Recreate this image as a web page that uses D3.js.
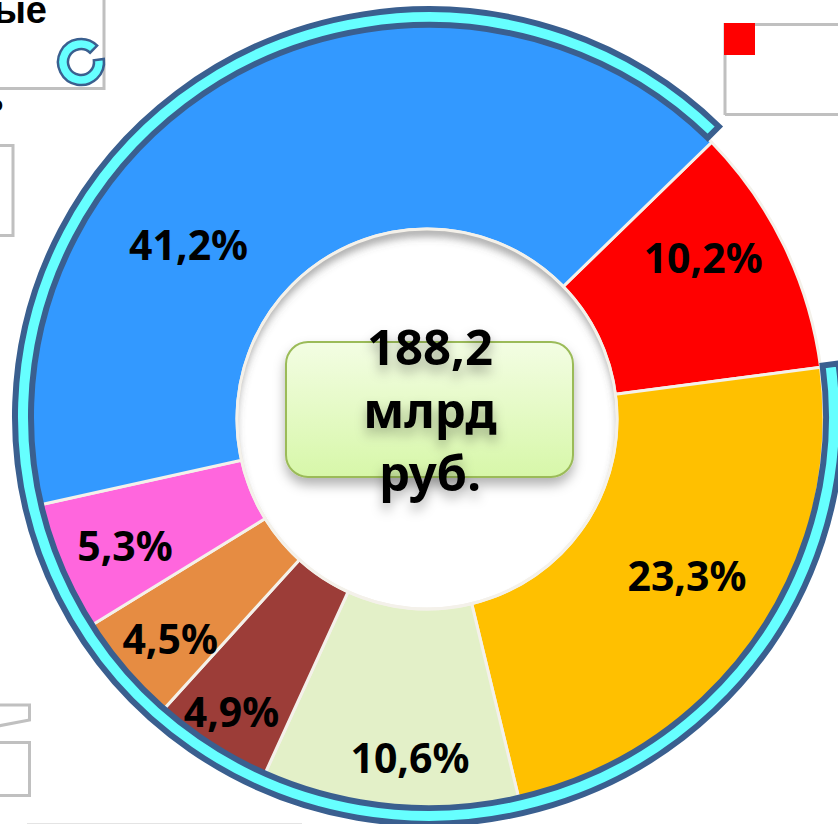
<!DOCTYPE html>
<html>
<head>
<meta charset="utf-8">
<script src="https://d3js.org/d3.v7.min.js"></script>
<style>
html, body { margin: 0; padding: 0; background: #fff; overflow: hidden; }
svg { display: block; }
.slice-label { font-family: "Noto Sans", sans-serif; font-weight: 700; font-size: 41px; fill: #000; text-anchor: middle; dominant-baseline: central; }
.total-label { font-family: "Noto Sans", sans-serif; font-weight: 700; font-size: 49px; fill: #000; text-anchor: middle; }
.frame { fill: none; stroke: #c0c0c0; stroke-width: 3; }
</style>
</head>
<body>
<svg id="chart" width="838" height="824"></svg>
<script>
const labels = ['10,2%', '23,3%', '10,6%', '4,9%', '4,5%', '5,3%', '41,2%'];
const shares = [10.2, 23.3, 10.6, 4.9, 4.5, 5.3, 41.2];
const totalLines = ['188,2', 'млрд', 'руб.'];

const sliceColors = ['#ff0000', '#ffc000', '#e3f0c8', '#9c3d38', '#e68c42', '#ff66dd', '#3399ff'];
// labels were placed by hand in the original, so they sit off the centroid
const labelNudge = [[12, -34], [18, -10], [11, 46], [-34, 47], [-31, 32], [-30, 16], [-99, 83]];

const svg = d3.select('svg#chart');
const cx = 427, cy = 419;
const innerRadius = 190, outerRadius = 397;
const startDeg = 45.8;

const color = d3.scaleOrdinal().domain(labels).range(sliceColors);

const pie = d3.pie().sort(null)
    .startAngle(startDeg * Math.PI / 180)
    .endAngle((startDeg + 360) * Math.PI / 180);
const arcs = pie(shares);
const arc = d3.arc().innerRadius(innerRadius).outerRadius(outerRadius);

const defs = svg.append('defs');
const grad = defs.append('linearGradient').attr('id', 'boxFill')
    .attr('x1', 0).attr('x2', 0).attr('y1', 0).attr('y2', 1);
grad.append('stop').attr('offset', '0%').attr('stop-color', '#f3fde3');
grad.append('stop').attr('offset', '100%').attr('stop-color', '#d7f7a9');
const soft = defs.append('filter').attr('id', 'soft')
    .attr('x', '-20%').attr('y', '-30%').attr('width', '140%').attr('height', '160%');
soft.append('feDropShadow').attr('dx', 0).attr('dy', 7).attr('stdDeviation', 6)
    .attr('flood-color', '#000').attr('flood-opacity', 0.3);
defs.append('filter').attr('id', 'blur')
    .append('feGaussianBlur').attr('stdDeviation', 4);
defs.append('clipPath').attr('id', 'hole')
    .append('circle').attr('cx', cx).attr('cy', cy).attr('r', innerRadius);

// grey frames left over from the slide
svg.append('path').attr('class', 'frame').attr('d', 'M-2,88.5H104V-2');
svg.append('path').attr('class', 'frame').attr('d', 'M-2,145.5H13V235.5H-2');
svg.append('path').attr('class', 'frame').attr('d', 'M725,115V24.5H840M725,114.5H840');
svg.append('path').attr('class', 'frame').attr('d', 'M-2,705H29.5V720L-2,726');
svg.append('path').attr('class', 'frame').attr('d', 'M-2,742.5H29.5V795.5H-2');
svg.append('line').attr('x1', 27).attr('x2', 302).attr('y1', 823.5).attr('y2', 823.5)
    .attr('stroke', '#e4e4e4');
svg.append('rect').attr('x', 724).attr('y', 23).attr('width', 31).attr('height', 32).attr('fill', '#ff0000');

svg.append('text').attr('x', 47).attr('y', 23).attr('text-anchor', 'end')
    .attr('font-family', '"Liberation Sans"').attr('font-weight', 700).attr('font-size', 38)
    .text('ые');
svg.append('text').attr('x', 3).attr('y', 111).attr('text-anchor', 'end')
    .attr('font-family', '"Liberation Sans"').attr('font-weight', 700).attr('font-size', 20)
    .text('о');

const chart = svg.append('g').attr('transform', `translate(${cx},${cy})`);

chart.selectAll('path.slice')
    .data(arcs)
    .join('path')
    .attr('class', 'slice')
    .attr('d', arc)
    .attr('fill', (d, i) => color(labels[i]))
    .attr('stroke', '#f4f1ea')
    .attr('stroke-width', 3);

// soft shadow along the top of the hole
svg.append('g').attr('clip-path', 'url(#hole)')
    .append('circle')
    .attr('cx', cx).attr('cy', cy + 8).attr('r', innerRadius + 6)
    .attr('fill', 'none').attr('stroke', '#555').attr('stroke-opacity', 0.55).attr('stroke-width', 10)
    .attr('filter', 'url(#blur)');
svg.append('circle').attr('cx', cx).attr('cy', cy).attr('r', innerRadius)
    .attr('fill', 'none').attr('stroke', '#f4f1ea').attr('stroke-width', 3);

// ring runs around everything except the first slice, slightly squashed
const ringStart = arcs[1].startAngle;
const ringEnd = arcs[arcs.length - 1].endAngle - 1.2 * Math.PI / 180;

function drawRing(x, y, r0, r1, sw, sy) {
    svg.append('path')
        .attr('transform', `translate(${x},${y}) scale(1,${sy})`)
        .attr('d', d3.arc().innerRadius(r0).outerRadius(r1)({startAngle: ringStart, endAngle: ringEnd}))
        .attr('fill', '#66ffff')
        .attr('stroke', '#3a5f8f')
        .attr('stroke-width', sw);
}
drawRing(81, 62, 13, 23, 2.5, 1);
drawRing(428.5, 416.5, 397.5, 413.5, 6, 0.985);

chart.selectAll('text.slice-label')
    .data(arcs)
    .join('text')
    .attr('class', 'slice-label')
    .attr('x', (d, i) => arc.centroid(d)[0] + labelNudge[i][0])
    .attr('y', (d, i) => arc.centroid(d)[1] + labelNudge[i][1])
    .text((d, i) => labels[i]);

// centre box
svg.append('rect')
    .attr('x', 286).attr('y', 342).attr('width', 287).attr('height', 135).attr('rx', 22)
    .attr('fill', 'url(#boxFill)').attr('stroke', '#9bbb59').attr('stroke-width', 2)
    .attr('filter', 'url(#soft)');

svg.selectAll('text.total-label')
    .data(totalLines)
    .join('text')
    .attr('class', 'total-label')
    .attr('x', 430)
    .attr('y', (d, i) => 365 + i * 63)
    .attr('filter', 'url(#soft)')
    .text(d => d);
</script>
</body>
</html>
